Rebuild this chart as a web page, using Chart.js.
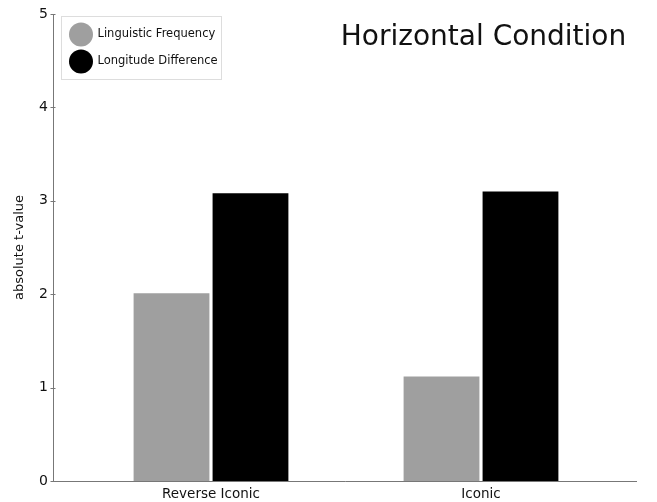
<!DOCTYPE html>
<html>
<head>
<meta charset="utf-8">
<script src="https://cdn.jsdelivr.net/npm/chart.js@4/dist/chart.umd.min.js"></script>
<style>
  html, body { margin: 0; padding: 0; background: #fff; overflow: hidden; }
  canvas { display: block; }
</style>
</head>
<body>
<canvas id="c" width="657" height="502" style="width:657px;height:502px;"></canvas>
<script>
const categories = ['Reverse Iconic', 'Iconic'];
const seriesLabels = ['Linguistic Frequency', 'Longitude Difference'];
const linguisticFrequency = [2.01, 1.12];
const longitudeDifference = [3.08, 3.10];
const yTickValues = [0, 1, 2, 3, 4, 5];
const chartTitle = 'Horizontal Condition';
const yAxisTitle = 'absolute t-value';

const FONT = "'DejaVu Sans', sans-serif";
const AXIS_GAP = 23;     // distance from y-axis line to chart area left
const AXIS_EXT_R = 21;   // x-axis line extension past chart area right

const framePlugin = {
  id: 'frame',
  afterDraw(chart) {
    const ctx = chart.ctx;
    const area = chart.chartArea;
    const ys = chart.scales.y;
    const axisX = Math.round(area.left - AXIS_GAP) + 0.5;
    const y0 = Math.round(ys.getPixelForValue(0)) + 0.5;
    const yTop = ys.getPixelForValue(ys.max);
    ctx.save();
    ctx.strokeStyle = '#777';
    ctx.lineWidth = 1;
    ctx.beginPath();
    ctx.moveTo(axisX, yTop);
    ctx.lineTo(axisX, y0);
    ctx.lineTo(area.right + AXIS_EXT_R, y0);
    ys.ticks.forEach(t => {
      const py = Math.round(ys.getPixelForValue(t.value)) + 0.5;
      ctx.moveTo(axisX - 3, py);
      ctx.lineTo(axisX + 2, py);
    });
    ctx.stroke();

    // legend box
    const lx = axisX + 8, ly = yTop + 2.5, lw = 160, lh = 63;
    ctx.strokeStyle = '#ddd';
    ctx.strokeRect(lx, ly, lw, lh);
    ctx.font = '11.5px ' + FONT;
    ctx.textBaseline = 'middle';
    ctx.textAlign = 'left';
    chart.data.datasets.forEach((ds, i) => {
      const cy = ly + 18 + i * 27;
      ctx.fillStyle = ds.backgroundColor;
      ctx.beginPath();
      ctx.arc(lx + 19.5, cy, 12, 0, Math.PI * 2);
      ctx.fill();
      ctx.fillStyle = '#111';
      ctx.fillText(ds.label, lx + 36, cy);
    });

    // title
    ctx.font = '28px ' + FONT;
    ctx.textAlign = 'center';
    ctx.textBaseline = 'alphabetic';
    ctx.fillStyle = '#111';
    ctx.fillText(chartTitle, 483.5, 45);
    ctx.restore();
  }
};

new Chart(document.getElementById('c'), {
  type: 'bar',
  data: {
    labels: categories,
    datasets: [
      { label: seriesLabels[0], data: linguisticFrequency, backgroundColor: '#9f9f9f' },
      { label: seriesLabels[1], data: longitudeDifference, backgroundColor: '#000000' }
    ]
  },
  options: {
    responsive: false,
    maintainAspectRatio: false,
    animation: false,
    devicePixelRatio: 1,
    layout: { padding: { top: 14, right: 41, bottom: 0, left: 0 } },
    datasets: { bar: { barPercentage: 0.96, categoryPercentage: 0.585 } },
    plugins: {
      legend: { display: false },
      title: { display: false },
      tooltip: { enabled: false }
    },
    scales: {
      x: {
        grid: { display: false, drawTicks: false },
        border: { display: false },
        ticks: { color: '#111', font: { family: FONT, size: 13.5 }, padding: 5, maxRotation: 0 },
        afterFit(scale) { scale.height = 21; }
      },
      y: {
        min: yTickValues[0],
        max: yTickValues[yTickValues.length - 1],
        grid: { display: false, drawTicks: false },
        border: { display: false },
        ticks: { color: '#111', font: { family: FONT, size: 14 }, padding: 28, stepSize: 1 },
        title: {
          display: true,
          text: yAxisTitle,
          color: '#111',
          font: { family: FONT, size: 13 },
          padding: { top: 12, bottom: 0 }
        },
        afterFit(scale) { scale.width = 76; scale.paddingTop = 0; scale.paddingBottom = 0; }
      }
    }
  },
  plugins: [framePlugin]
});
</script>
</body>
</html>
